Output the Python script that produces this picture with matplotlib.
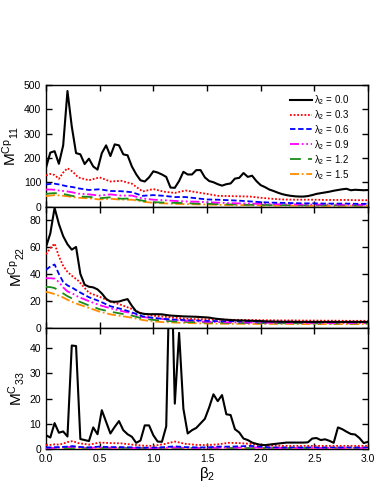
import numpy as np
import matplotlib
matplotlib.use('Agg')
import matplotlib.pyplot as plt

plt.rcParams['font.family'] = ['Liberation Sans', 'DejaVu Sans']
plt.rcParams['mathtext.fontset'] = 'custom'
plt.rcParams['mathtext.rm'] = 'Liberation Sans'
plt.rcParams['mathtext.it'] = 'Liberation Sans:italic'

# beta_2 grid for the lambda_2 = 0.0 curves
xb = np.round(np.arange(0, 3.0001, 0.04), 2)
# coarser grid for the smoother curves
xc = [0.0, 0.04, 0.08, 0.12, 0.16, 0.20, 0.25, 0.30, 0.4, 0.5, 0.6, 0.7, 0.8, 0.9,
      1.0, 1.1, 1.2, 1.3, 1.4, 1.5, 1.6, 1.7, 1.8, 1.9, 2.0, 2.1, 2.2, 2.3, 2.4,
      2.5, 2.6, 2.7, 2.8, 2.9, 3.0]

lam_labels = ['0.0', '0.3', '0.6', '0.9', '1.2', '1.5']

# M^Cp_11
m11_black = [160, 222, 228, 176, 252, 476, 330, 220, 215, 175, 197, 165, 152, 220, 252, 208,
             256, 252, 215, 211, 165, 133, 108, 103, 120, 145, 140, 132, 122, 78, 77, 105,
             143, 132, 132, 150, 150, 120, 105, 100, 92, 86, 92, 95, 115, 118, 138, 122,
             127, 105, 88, 80, 70, 64, 57, 51, 47, 44, 42, 41, 41, 43, 47, 52, 55, 58,
             61, 65, 68, 71, 73, 67, 69, 68, 67, 68]
m11_red = [128, 134, 130, 114, 140, 158, 143, 120, 108, 120, 103, 106, 94, 62, 72, 61, 56,
           66, 59, 52, 44, 43, 42, 41, 36, 32, 29, 28, 28, 28, 27, 27, 27, 26, 26]
m11_blue = [91, 93, 94, 91, 87, 83, 80, 75, 68, 71, 64, 63, 59, 44, 47, 44, 39, 39, 34, 29,
            28, 26, 24, 21, 18, 16, 15, 14, 13, 13, 12, 12, 12, 11, 11]
m11_mag = [70, 70, 69, 66, 64, 62, 58, 53, 50, 45, 50, 45, 45, 33, 28, 26, 23, 21, 20, 18,
           16, 14, 13, 12, 11, 10, 9, 9, 8, 8, 8, 8, 7, 7, 7]
m11_green = [52, 54, 55, 54, 52, 48, 43, 41, 40, 34, 38, 32, 33, 24, 18, 16, 15, 14, 12, 11,
             10, 9, 8, 7, 7, 6, 6, 5, 5, 5, 5, 5, 5, 4, 4]
m11_orange = [43, 45, 47, 46, 44, 42, 39, 36, 34, 29, 32, 28, 28, 20, 15, 13, 11, 10, 9, 8,
              7, 6, 6, 5, 5, 4, 4, 4, 3, 3, 3, 3, 3, 3, 3]

# M^Cp_22
m22_black = [60, 70, 89, 77, 68, 62, 58, 60, 40, 32, 30.5, 30, 28.5, 25.5, 21.5, 19.5, 19.3,
             19.5, 20.5, 21.3, 16.3, 12.2, 10.8, 10.3, 10.1, 10.1, 10.1, 10.0, 9.5, 9.1, 8.9,
             8.7, 8.5, 8.4, 8.3, 8.2, 8.0, 7.8, 7.6, 7.0, 6.6, 6.3, 6.0, 5.8, 5.6, 5.5, 5.4,
             5.3, 5.2, 5.1, 5.0, 4.8, 4.7, 4.6, 4.6, 4.5, 4.5, 4.5, 4.4, 4.4, 4.4, 4.4, 4.4,
             4.4, 4.4, 4.4, 4.4, 4.4, 4.4, 4.4, 4.4, 4.4, 4.4, 4.4, 4.4, 4.4]
m22_red = [54.6, 59, 62.5, 53, 46, 41.5, 38, 35, 26, 23, 19.6, 17, 14, 10.5, 9, 8.2, 7.5, 6.8,
           6.4, 6.4, 6.2, 6.0, 5.9, 5.8, 5.7, 5.6, 5.5, 5.5, 5.4, 5.4, 5.3, 5.3, 5.2, 5.2, 5.2]
m22_blue = [43, 45.5, 47, 40, 34, 31.5, 29.5, 27, 22.7, 19.7, 16, 14, 11.5, 8.5, 7.4, 6.6, 6.1,
            5.8, 5.5, 5.2, 5.0, 4.9, 4.8, 4.7, 4.6, 4.6, 4.5, 4.5, 4.5, 4.4, 4.4, 4.4, 4.3,
            4.3, 4.3]
m22_mag = [36.8, 36.8, 36.5, 34, 30, 27, 25.3, 23, 19.8, 16.8, 14.5, 12.5, 10.8, 8, 7.2, 6.4,
           5.8, 5.3, 4.9, 4.5, 4.3, 4.1, 4.0, 3.9, 3.8, 3.8, 3.7, 3.7, 3.7, 3.7, 3.6, 3.6,
           3.6, 3.6, 3.6]
m22_green = [30.4, 30.2, 29.5, 27.5, 25.5, 23.5, 21.5, 19.8, 16.6, 13.8, 12, 10.5, 9.1, 6.9,
             5.9, 5.3, 4.7, 4.4, 4.2, 4.0, 3.8, 3.7, 3.6, 3.5, 3.5, 3.4, 3.4, 3.4, 3.4, 3.3,
             3.3, 3.3, 3.3, 3.3, 3.3]
m22_orange = [26.7, 26, 25, 23.8, 22.5, 20.8, 19, 17.5, 14.8, 12, 10, 8.8, 7.5, 5.8, 4.7, 4.2,
              3.9, 3.6, 3.4, 3.2, 3.1, 3.0, 3.0, 2.9, 2.9, 2.9, 2.9, 2.8, 2.8, 2.8, 2.8, 2.8,
              2.8, 2.8, 2.8]

# M^C_33
m33_black = [5.5, 4.6, 10.3, 6.5, 7.0, 5.0, 41, 40.8, 4.0, 3.6, 3.2, 8.6, 5.9, 15.4, 10.8,
             6.2, 8.8, 11.1, 7.5, 5.9, 4.9, 2.5, 3.4, 9.4, 9.4, 5.5, 3.0, 2.9, 9.0, 88, 18,
             46, 16, 6.2, 7.5, 8.4, 10.2, 12, 16.5, 21.7, 19, 21.4, 13.8, 13.5, 7.9, 6.6, 4.2,
             3.6, 2.6, 2.1, 1.7, 1.6, 1.8, 2.0, 2.2, 2.4, 2.6, 2.6, 2.6, 2.6, 2.6, 2.7, 4.2,
             4.4, 3.6, 3.9, 3.3, 2.5, 8.6, 7.9, 6.9, 6.0, 5.8, 4.4, 2.4, 2.9]
m33_red = [1.6, 1.7, 1.9, 1.8, 2.2, 2.8, 3.2, 2.4, 1.8, 2.6, 2.4, 2.3, 1.8, 1.4, 1.3, 2.0, 3.0,
           2.1, 1.7, 1.6, 1.9, 2.5, 2.4, 2.1, 1.6, 1.4, 1.3, 1.3, 1.3, 1.3, 1.3, 1.3, 1.3,
           1.3, 1.3]
m33_blue = [0.7, 0.7, 0.8, 0.8, 0.9, 1.0, 1.2, 0.9, 0.7, 1.0, 0.8, 0.8, 0.7, 0.6, 0.6, 0.8,
            1.1, 0.8, 0.7, 0.7, 1.0, 1.0, 1.1, 1.3, 1.0, 0.7, 0.7, 0.7, 0.7, 0.7, 0.7, 0.7,
            0.7, 0.7, 0.7]
m33_mag = [0.5, 0.5, 0.5, 0.6, 0.7, 0.8, 1.0, 0.7, 0.5, 0.7, 0.6, 0.6, 0.5, 0.4, 0.4, 0.5,
           0.7, 0.5, 0.5, 0.5, 0.6, 0.6, 0.6, 0.7, 0.6, 0.5, 0.5, 0.5, 0.5, 0.5, 0.5, 0.5,
           0.5, 0.5, 0.5]
m33_green = [0.3] * 35
m33_orange = [0.2] * 35

colors = ['black', '#ff0000', '#0000ff', '#ff00ff', '#1a8c1a', '#ff8c00']
styles = ['-', (0, (1, 1)), (0, (3, 1.5)), (0, (5, 1.5, 1, 1.5, 1, 1.5)), (0, (6, 4)),
          (0, (5, 1.5, 1, 1.5))]
widths = [1.5, 1.3, 1.3, 1.3, 1.3, 1.3]

panels = [
    (m11_black, [m11_red, m11_blue, m11_mag, m11_green, m11_orange], (0, 500), 100,
     r'M$^{\mathrm{Cp}}$$_{11}$'),
    (m22_black, [m22_red, m22_blue, m22_mag, m22_green, m22_orange], (0, 90), 20,
     r'M$^{\mathrm{Cp}}$$_{22}$'),
    (m33_black, [m33_red, m33_blue, m33_mag, m33_green, m33_orange], (0, 48), 10,
     r'M$^{\mathrm{C}}$$_{33}$'),
]

fig, axes = plt.subplots(3, 1, figsize=(3.74, 4.84), dpi=100, sharex=True)
fig.subplots_adjust(left=0.123, right=0.984, top=0.824, bottom=0.072, hspace=0)

for ax, (blk, others, ylim, step, ylab) in zip(axes, panels):
    series = [blk] + others
    for i, ys in enumerate(series):
        xs = xb if i == 0 else xc
        ax.plot(xs, ys, color=colors[i], linestyle=styles[i], lw=widths[i],
                label='λ$_2$ = ' + lam_labels[i], zorder=10 - i)
    ax.set_xlim(0, 3.0)
    ax.set_ylim(*ylim)
    ax.set_yticks(np.arange(0, ylim[1] + 0.01, step))
    ax.set_xticks(np.arange(0, 3.01, 0.5))
    ax.tick_params(direction='in', top=True, right=True, length=4, width=1,
                   labelsize=7.5)
    for s in ax.spines.values():
        s.set_linewidth(1.0)
    ax.set_ylabel(ylab, fontsize=11, labelpad=2)

axes[0].legend(loc='upper right', bbox_to_anchor=(0.965, 1.0), frameon=False, fontsize=7,
               handlelength=2.3, handletextpad=0.15, labelspacing=0.12, borderaxespad=0.4)
axes[2].set_xticklabels(['0.0', '0.5', '1.0', '1.5', '2.0', '2.5', '3.0'])
axes[2].set_xlabel(r'β$_2$', fontsize=11, labelpad=1)

fig.savefig('out.png', dpi=100)
